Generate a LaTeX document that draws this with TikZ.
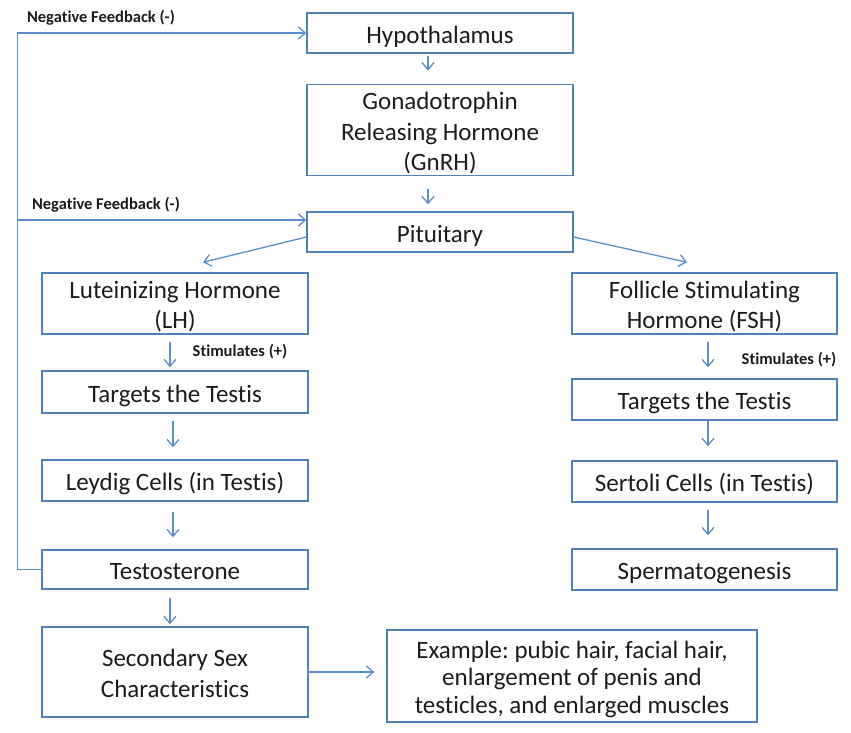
\documentclass[tikz,border=0pt]{standalone}
\usepackage{fontspec}
\setmainfont{Carlito}[Ligatures=NoCommon]
\usetikzlibrary{arrows.meta,calc}
\definecolor{bx}{RGB}{79,129,189}
\definecolor{ar}{RGB}{91,143,201}
\definecolor{tx}{RGB}{28,28,28}
\newcommand\boxtext[1]{\raisebox{-4pt}[\height][\depth]{\begin{tabular}{@{}c@{}}#1\end{tabular}}}
\frenchspacing
\begin{document}
\begin{tikzpicture}[x=1pt,y=-1pt,
  box/.style={draw=bx, line width=1.4pt, inner sep=0pt, text=tx,
    font=\fontsize{25}{30.5}\selectfont},
  arr/.style={draw=ar, line width=1.3pt, -{Straight Barb[length=7pt,width=12pt]}},
  lbl/.style={text=tx, inner sep=0pt, font=\fontsize{16.5}{19}\selectfont\bfseries}]
\useasboundingbox[fill=white] (0,0) rectangle (851,733);

% central column
\node[box, minimum width=266, minimum height=40] (hyp) at (440,33) {\boxtext{Hypothalamus}};
\node[box, minimum width=266, minimum height=84] (gnrh) at (440,130) {\boxtext{Gonadotrophin\\Releasing Hormone\\(GnRH)}};
\node[box, minimum width=266, minimum height=40] (pit) at (440,232) {\boxtext{Pituitary}};

% left column
\node[box, minimum width=266, minimum height=59] (lh) at (175,303.5) {\boxtext{Luteinizing Hormone\\(LH)}};
\node[box, minimum width=266, minimum height=42] (ltar) at (175,392) {\boxtext{Targets the Testis}};
\node[box, minimum width=266, minimum height=41] (leydig) at (175,480.5) {\boxtext{Leydig Cells (in Testis)}};
\node[box, minimum width=266, minimum height=39] (testo) at (175,569.5) {\boxtext{Testosterone}};
\node[box, minimum width=266, minimum height=90] (sec) at (175,672) {\boxtext{Secondary Sex\\Characteristics}};
\node[box, minimum width=370, minimum height=92, font=\fontsize{25}{27.5}\selectfont] (ex) at (572,676) {\boxtext{Example: pubic hair, facial hair,\\enlargement of penis and\\testicles, and enlarged muscles}};

% right column
\node[box, minimum width=265, minimum height=59] (fsh) at (704.5,303.5) {\boxtext{Follicle Stimulating\\Hormone (FSH)}};
\node[box, minimum width=265, minimum height=41] (rtar) at (704.5,399.5) {\boxtext{Targets the Testis}};
\node[box, minimum width=265, minimum height=41] (sert) at (704.5,481.5) {\boxtext{Sertoli Cells (in Testis)}};
\node[box, minimum width=265, minimum height=41] (sperm) at (704.5,569.5) {\boxtext{Spermatogenesis}};

% labels
\node[lbl] (nf1) at (101,18) {Negative Feedback (-)};
\node[lbl] (nf2) at (106,205) {Negative Feedback (-)};
\node[lbl] (st1) at (240,352) {Stimulates (+)};
\node[lbl] (st2) at (789,360) {Stimulates (+)};

% connectors
\draw[arr] ($(hyp.south)+(-12,2)$) -- ($(gnrh.north)+(-12,-13)$);
\draw[arr] ($(gnrh.south)+(-12,13)$) -- ($(pit.north)+(-12,-7)$);
\draw[arr] ($(pit.west)+(0,5)$) -- ($(lh.north)+(28,-10)$);
\draw[arr] ($(pit.east)+(0,5)$) -- ($(fsh.north)+(-17.5,-10)$);

\draw[arr] ($(lh.south)+(-5,7)$) -- ($(ltar.north)+(-5,-3)$);
\draw[arr] ($(ltar.south)+(-2,7)$) -- ($(leydig.north)+(-2,-12)$);
\draw[arr] ($(leydig.south)+(-2,10)$) -- ($(testo.north)+(-2,-12)$);
\draw[arr] ($(testo.south)+(-5,8)$) -- ($(sec.north)+(-5,-2)$);
\draw[arr] (sec.east) -- ($(ex.west)+(-12,-4)$);

\draw[arr] ($(fsh.south)+(3.5,7)$) -- ($(rtar.north)+(3.5,-11)$);
\draw[arr] ($(rtar.south)+(3.5,0)$) -- ($(sert.north)+(3.5,-14)$);
\draw[arr] ($(sert.south)+(3.5,7)$) -- ($(sperm.north)+(3.5,-13)$);

% negative feedback loop
\coordinate (fbj) at (18,220);
\draw[arr] (testo.west) -- ++(-24,0) |- (hyp.west);
\draw[arr] (fbj) -- ($(pit.west)+(0,-12)$);
\end{tikzpicture}
\end{document}
